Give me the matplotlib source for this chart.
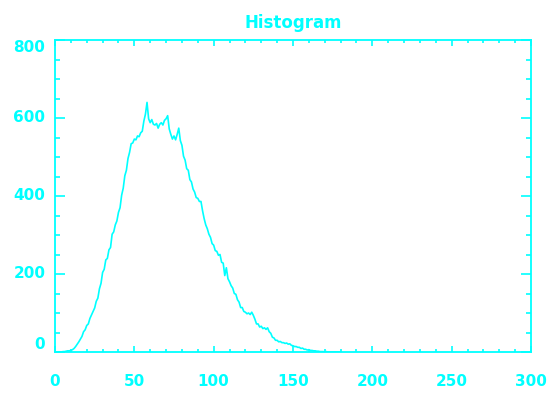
import numpy as np
import matplotlib
matplotlib.use("Agg")
import matplotlib.pyplot as plt
from matplotlib.transforms import offset_copy
from matplotlib.ticker import MultipleLocator

# histogram counts per bin (bins 0..179)
counts = [
    0, 0, 0, 0, 0, 1, 1, 2, 3, 3,
    4, 6, 9, 14, 20, 26, 33, 40, 52, 57,
    68, 72, 86, 95, 104, 113, 130, 138, 162, 176,
    204, 212, 236, 240, 262, 268, 302, 308, 326, 336,
    358, 370, 402, 420, 452, 466, 496, 512, 534, 536,
    546, 544, 554, 552, 562, 566, 592, 610, 640, 598,
    588, 596, 584, 582, 586, 574, 584, 588, 582, 594,
    598, 606, 572, 558, 546, 554, 544, 558, 574, 542,
    530, 502, 492, 470, 466, 442, 436, 418, 410, 396,
    394, 386, 386, 362, 342, 326, 316, 302, 294, 278,
    274, 260, 258, 248, 250, 230, 228, 196, 216, 188,
    180, 170, 164, 150, 148, 134, 128, 114, 114, 104,
    102, 98, 100, 96, 102, 94, 84, 72, 72, 64,
    66, 60, 62, 58, 62, 52, 48, 38, 36, 30,
    30, 26, 27, 24, 24, 22, 23, 20, 21, 17,
    16, 14, 14, 12, 12, 9, 10, 7, 7, 5,
    6, 4, 4, 3, 3, 2, 2, 1, 1, 1,
    0, 1, 0, 0, 0, 0, 0, 0, 0, 0,
]
bins = np.arange(len(counts))

xticks = [0, 50, 100, 150, 200, 250, 300]
yticks = [0, 200, 400, 600, 800]

cyan = "#00ffff"

fig = plt.figure(figsize=(5.51, 3.99), dpi=100)
ax = fig.add_axes([55/551, 1 - 352/399, 476/551, 312/399])

ax.plot(bins, counts, color=cyan, lw=1.2)

ax.set_xlim(0, 300)
ax.set_ylim(0, 800)
for sp in ax.spines.values():
    sp.set_color(cyan)
    sp.set_linewidth(1.3)

ax.set_xticks(xticks)
ax.set_yticks(yticks)
ax.xaxis.set_minor_locator(MultipleLocator(10))
ax.yaxis.set_minor_locator(MultipleLocator(50))
ax.tick_params(axis="x", which="major", direction="in", top=True, length=4.5,
               width=1.2, color=cyan, labelcolor=cyan, pad=16)
ax.tick_params(axis="x", which="minor", direction="in", top=True, length=2.2,
               width=1.2, color=cyan)
ax.tick_params(axis="y", which="major", direction="in", right=True, length=7,
               width=1.2, color=cyan, labelleft=False)
ax.tick_params(axis="y", which="minor", direction="in", right=True, length=3.5,
               width=1.2, color=cyan)
for lab in ax.get_xticklabels():
    lab.set_fontweight("bold")
    lab.set_fontsize(11)

# y labels, the end ones pulled inside the box like the original
base = offset_copy(ax.get_yaxis_transform(), fig=fig, x=-7, units="points")
for v in yticks:
    va = "center"
    if v == yticks[0]:
        va = "bottom"
    elif v == yticks[-1]:
        va = "top"
    ax.text(0, v, str(v), transform=base, ha="right", va=va, color=cyan,
            fontsize=11, fontweight="bold")

ax.set_title("Histogram", color=cyan, fontsize=12, fontweight="bold", pad=9)

fig.savefig("out.png", dpi=100)
